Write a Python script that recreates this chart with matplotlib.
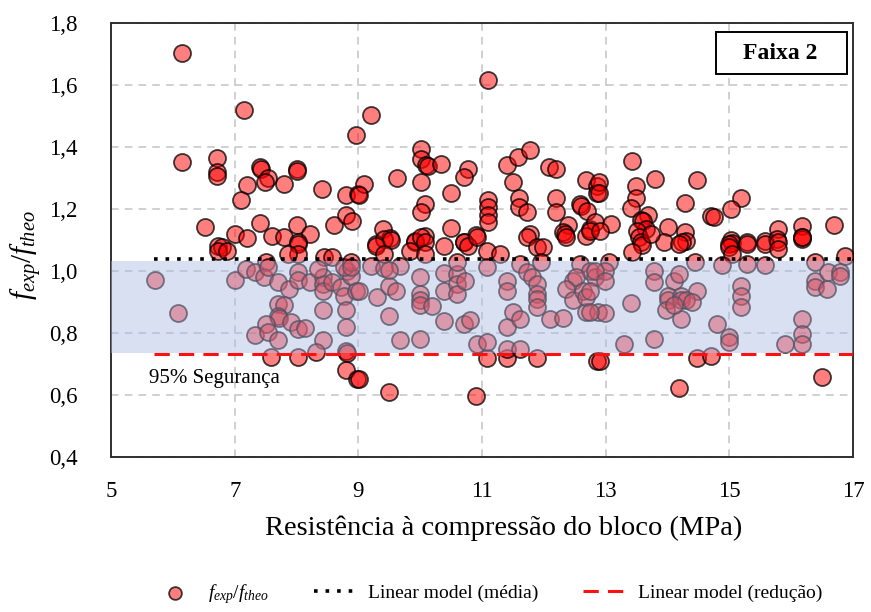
import numpy as np
import matplotlib.pyplot as plt
from matplotlib.patches import Rectangle
from matplotlib.ticker import FuncFormatter, MultipleLocator

# =========================
# Data
# =========================
fbloco = [
    6.15, 7.15, 8.96, 6.15, 6.71, 6.71, 6.71, 7.41, 7.43, 7.54, 7.49, 7.20, 7.80, 8.01, 8.01,
    8.41, 8.80, 9.00, 7.10, 6.52, 7.00, 7.20, 7.41, 7.61, 7.80, 8.00, 8.22, 8.02, 8.60, 8.80,
    8.90, 6.73, 6.80,
    11.09, 9.21, 10.01, 10.01, 10.10, 10.12, 10.34, 10.78, 10.70, 9.63, 10.01, 9.09, 9.01, 10.50,
    11.40, 11.58, 11.78, 11.50, 12.08, 12.20, 12.68, 12.85, 10.08, 10.01, 11.09, 11.09, 11.09, 11.09,
    11.60, 11.60, 11.72, 12.19, 12.19, 12.58, 12.60, 12.69, 12.85, 9.39, 9.51, 9.28, 10.50, 10.90,
    10.08, 9.92, 10.70, 11.78, 12.39, 12.31, 12.74, 12.82, 12.68,
    13.42, 12.89, 12.89, 13.49, 13.49, 13.79, 14.48, 15.18, 15.02, 14.28, 13.41, 13.69, 13.57, 13.60,
    13.65, 13.51, 13.09, 12.74, 12.90, 14.00, 14.28, 14.70, 14.75, 15.79, 16.18, 16.69, 15.02, 15.04,
    15.28, 15.58, 15.77, 16.17, 16.17, 13.54, 13.94, 14.29,
    6.73, 6.87, 8.02, 8.02, 7.51, 7.86, 5.71, 6.09, 7.00, 7.19, 7.32, 7.48, 7.54, 7.70, 7.88,
    8.02, 8.02, 8.21, 8.42, 8.42, 8.42, 8.58, 8.72, 8.77, 8.82, 8.88, 8.96, 7.70, 7.80, 7.70,
    7.72, 7.51, 7.32, 7.54, 7.70, 7.91, 8.02, 8.13, 8.42, 8.42, 8.80, 8.80, 8.31, 8.80, 8.82,
    7.59, 8.02, 8.80, 8.98, 8.45, 8.58, 8.77, 8.88, 8.34,
    9.01, 9.49, 10.90, 11.08, 11.40, 11.88, 12.85, 10.92, 11.08, 11.40, 11.61, 9.68, 10.00, 9.49,
    10.39, 10.70, 10.81, 11.40, 11.50, 11.61, 12.09, 12.31, 12.68, 9.01, 9.30, 9.49, 9.60, 10.00,
    10.00, 10.00, 10.00, 10.19, 10.39, 10.39, 10.59, 10.59, 10.59, 10.73, 9.20, 9.41, 9.68, 9.49,
    8.88, 9.41, 9.52, 9.28, 9.41, 9.92, 10.01, 10.08, 9.84, 10.08, 10.39, 10.70, 10.78, 10.91,
    11.08, 11.08, 11.29, 10.59, 11.72, 11.88, 11.99, 11.61, 11.72, 11.80, 11.88, 11.88, 11.88,
    11.88, 11.96, 11.40, 11.40, 12.34, 12.36, 12.58, 12.74, 12.82, 12.47, 12.52, 12.36, 12.47,
    12.63, 12.68, 12.87,
    13.57, 13.59, 13.73, 13.43, 14.24, 14.19, 14.45, 14.99, 15.00, 15.04, 15.28, 15.58, 15.79,
    15.79, 16.17, 16.87, 16.38, 13.06, 12.98, 12.82, 12.98, 12.74, 13.78, 13.78, 14.10, 14.19,
    14.48, 13.41, 12.98, 12.74, 14.00, 14.00, 13.97, 14.21, 14.21, 14.29, 14.40, 14.21, 14.10,
    14.88, 15.18, 15.18, 15.18, 14.80, 14.99, 14.99, 13.78, 13.30, 14.48, 14.70, 14.19, 12.90,
    16.49, 15.90, 16.17, 16.17, 16.17, 16.38, 16.38, 16.57, 16.60, 16.79, 16.79, 15.58, 15.28,
]
ratio = [
    1.704, 1.520, 1.440, 1.353, 1.366, 1.318, 1.307, 1.335, 1.330, 1.300, 1.286, 1.277, 1.280, 1.330, 1.322,
    1.266, 1.245, 1.248, 1.230, 1.143, 1.120, 1.105, 1.154, 1.114, 1.109, 1.149, 1.120, 1.093, 1.149, 1.180,
    1.160, 1.080, 1.078,
    1.616, 1.503, 1.395, 1.360, 1.342, 1.338, 1.345, 1.329, 1.304, 1.300, 1.288, 1.282, 1.245, 1.251,
    1.342, 1.368, 1.390, 1.288, 1.336, 1.329, 1.293, 1.275, 1.216, 1.190, 1.229, 1.205, 1.181, 1.157,
    1.234, 1.207, 1.191, 1.237, 1.191, 1.216, 1.210, 1.195, 1.253, 1.136, 1.105, 1.087, 1.139, 1.116,
    1.114, 1.095, 1.093, 1.120, 1.149, 1.125, 1.136, 1.157, 1.114,
    1.355, 1.286, 1.253, 1.275, 1.237, 1.296, 1.293, 1.237, 1.200, 1.221, 1.202, 1.181, 1.166, 1.160,
    1.136, 1.130, 1.152, 1.130, 1.128, 1.141, 1.125, 1.178, 1.173, 1.136, 1.146, 1.149, 1.100, 1.092,
    1.093, 1.098, 1.104, 1.109, 1.102, 1.109, 1.093, 1.098,
    1.066, 1.066, 1.087, 1.055, 1.028, 1.055, 0.972, 0.864, 0.972, 1.007, 0.996, 0.980, 1.012, 0.964, 0.943,
    0.996, 0.970, 0.964, 0.980, 0.959, 0.937, 0.964, 0.948, 0.921, 1.000, 0.985, 0.937, 0.895, 0.889, 0.854,
    0.848, 0.830, 0.793, 0.803, 0.777, 0.835, 0.814, 0.817, 0.873, 0.777, 0.873, 0.819, 0.739, 0.742, 0.735,
    0.721, 0.721, 0.680, 0.653, 1.045, 1.045, 1.012, 1.028, 1.007,
    0.653, 0.610, 0.597, 0.718, 0.718, 0.720, 0.709, 0.766, 0.771, 0.750, 0.750, 0.777, 0.782, 0.854,
    0.840, 0.830, 0.843, 0.819, 0.868, 0.846, 0.846, 0.850, 0.868, 0.937, 0.916, 0.953, 0.937, 0.980,
    0.926, 0.906, 0.890, 0.886, 0.937, 0.993, 0.991, 0.959, 0.927, 0.969, 1.015, 1.010, 1.015, 1.003,
    1.012, 1.104, 1.100, 1.082, 1.055, 1.098, 1.109, 1.093, 1.066, 1.055, 1.082, 1.093, 1.082, 1.111,
    1.066, 1.012, 1.055, 1.028, 1.109, 1.077, 1.077, 1.023, 0.996, 0.980, 0.959, 0.927, 0.911,
    0.884, 1.028, 0.969, 0.937, 1.120, 1.109, 1.023, 1.000, 0.980, 0.969, 0.980, 0.943, 0.905,
    0.937, 0.916, 0.868,
    1.093, 1.085, 1.120, 1.061, 1.093, 1.087, 1.028, 1.087, 1.078, 1.055, 1.087, 1.087, 1.093,
    1.071, 1.109, 1.047, 1.028, 1.028, 1.000, 1.000, 0.969, 0.937, 1.000, 0.964, 0.969, 0.991,
    0.937, 0.896, 0.864, 0.868, 0.921, 0.905, 0.873, 0.921, 0.905, 0.905, 0.900, 0.846, 0.889,
    1.018, 0.953, 0.921, 0.884, 0.830, 0.787, 0.771, 0.782, 0.766, 0.720, 0.726, 0.623, 0.710,
    0.658, 0.766, 0.846, 0.798, 0.766, 0.969, 0.948, 0.943, 0.996, 0.996, 0.985, 1.018, 1.023,
]

media_level = 1.039      # Linear model (média)
reducao_level = 0.733    # Linear model (redução)
band_low, band_high = 0.736, 1.031
line_x = [5.7, 17.0]

xticks = [5, 7, 9, 11, 13, 15, 17]

# =========================
# Style
# =========================
plt.rcParams["font.family"] = ["Liberation Serif", "DejaVu Serif"]
plt.rcParams["mathtext.fontset"] = "custom"
plt.rcParams["mathtext.it"] = "Liberation Serif:italic"
plt.rcParams["mathtext.rm"] = "Liberation Serif"

fig = plt.figure(figsize=(8.71, 6.12), dpi=100)
ax = fig.add_axes([0.1275, 0.2533, 0.852, 0.709])

ax.scatter(fbloco, ratio, s=150, facecolor=(1, 0, 0, 0.5), edgecolor=(0, 0, 0, 0.75),
           linewidth=1.3, zorder=3, label=r"$f_{exp}/f_{theo}$")

# shaded band drawn over the points
ax.axhspan(band_low, band_high, color="#a9bbe3", alpha=0.45, lw=0, zorder=4)

ax.plot(line_x, [media_level] * 2, color="black", linestyle=(0, (1, 2.2)), lw=2.6,
        zorder=5, label="Linear model (média)")
ax.plot(line_x, [reducao_level] * 2, color="#ff1010", linestyle=(0, (5, 3)), lw=2.2,
        zorder=5, label="Linear model (redução)")

ax.text(5.62, 0.652, "95% Segurança", fontsize=15, va="center", ha="left", zorder=6)

# "Faixa 2" box
ax.add_patch(Rectangle((0.815, 0.8825), 0.177, 0.0965, transform=ax.transAxes,
                       facecolor="white", edgecolor="black", lw=1.4, zorder=6))
ax.text(0.902, 0.930, "Faixa 2", transform=ax.transAxes, fontsize=17, fontweight="bold",
        ha="center", va="center", zorder=7)

ax.set_xlim(5, 17)
ax.set_ylim(0.4, 1.8)
ax.set_xticks(xticks)
ax.yaxis.set_major_locator(MultipleLocator(0.2))
ax.yaxis.set_major_formatter(FuncFormatter(lambda v, p: f"{v:.1f}".replace(".", ",")))
ax.tick_params(length=0, labelsize=16.5)
ax.tick_params(axis="x", pad=17)
ax.tick_params(axis="y", pad=24)
ax.grid(True, color="#c4c4c4", linestyle=(0, (5, 4)), lw=1.1, zorder=0)
ax.set_axisbelow(True)
for sp in ax.spines.values():
    sp.set_linewidth(1.4)
    sp.set_color("#303030")

fig.text(504 / 871, 1 - 528 / 612, "Resistência à compressão do bloco (MPa)",
         fontsize=20.5, ha="center", va="center")
fig.text(27 / 871, 1 - 255 / 612, r"$f_{exp}/f_{theo}$", fontsize=21,
         rotation=90, ha="center", va="center")

fig.legend(loc="center", bbox_to_anchor=(488 / 871, 1 - 594 / 612), ncol=3, frameon=False,
           fontsize=14, handlelength=2.2, handletextpad=0.6, columnspacing=2.3,
           markerscale=0.75, borderpad=0.2)

plt.savefig("out.png", dpi=100)
